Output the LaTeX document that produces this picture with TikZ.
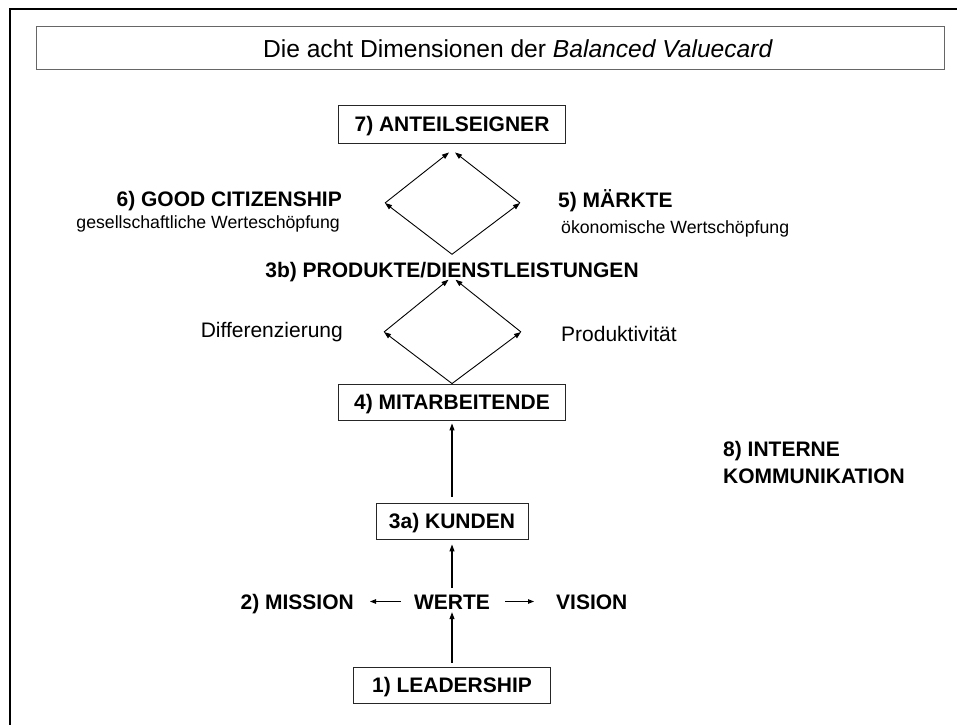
\documentclass[tikz,border=0pt]{standalone}
\usepackage{fontspec}
\setmainfont{Liberation Sans}
\usetikzlibrary{arrows.meta, positioning}

\tikzset{
  dim/.style={font=\bfseries\fontsize{21}{26}\selectfont, text height=15pt, text depth=0pt, inner sep=0pt},
  dimbox/.style={dim, draw=black!85, line width=0.9pt},
  sublbl/.style={font=\fontsize{17.7}{22}\selectfont, inner sep=0pt},
  sidelbl/.style={font=\fontsize{21}{26}\selectfont, inner sep=0pt},
  uparr/.style={line width=1.1pt, -{Triangle[length=7pt,width=5pt]}},
  flowarr/.style={line width=0.9pt, -{Triangle[length=7pt,width=5pt]}},
  sidearr/.style={line width=0.9pt, -{Triangle[length=6pt,width=4.5pt]}}
}

\begin{document}
\begin{tikzpicture}[x=1pt, y=-1pt]
                \useasboundingbox (0,0) rectangle (957,724);
                \draw[line width=2pt] (10,730) -- (10,9) -- (965,9);

                \node[draw=black!60, line width=1pt, minimum width=908pt, minimum height=43pt, inner sep=0pt] (titlebox) at (490,47.5) {};
                \node[font=\fontsize{24.6}{30}\selectfont, inner sep=0pt, anchor=base] (title) at (518,57) {Die acht Dimensionen der \textit{Balanced Valuecard}};

                \node[dimbox, minimum width=227pt, minimum height=38pt] (anteil) at (452,124) {7) ANTEILSEIGNER};
                \node[dim] (produkte) at (452,270) {3b) PRODUKTE/DIENSTLEISTUNGEN};
                \node[dimbox, minimum width=227pt, minimum height=36pt] (mitarb) at (452,402) {4) MITARBEITENDE};
                \node[dimbox, minimum width=152pt, minimum height=36pt] (kunden) at (452,521) {3a) KUNDEN};
                \node[dim] (werte) at (452,601.5) {WERTE};
                \node[dimbox, minimum width=197pt, minimum height=36pt] (leader) at (452,685) {1) LEADERSHIP};

                \node[dim, anchor=east] (mission) at (354,601.5) {2) MISSION};
                \node[dim, anchor=west] (vision) at (556,601.5) {VISION};
                \node[dim, anchor=east] (citizen) at (342,199) {6) GOOD CITIZENSHIP};
                \node[sublbl, anchor=base east] (gesell) at (340,228) {gesellschaftliche Werteschöpfung};
                \node[dim, anchor=west] (maerkte) at (558,200) {5) MÄRKTE};
                \node[sublbl, anchor=base west] (oekon) at (561,233) {ökonomische Wertschöpfung};
                \node[sidelbl, anchor=base east] (diff) at (343,337) {Differenzierung};
                \node[sidelbl, anchor=base west] (produkt) at (561,341) {Produktivität};
                \node[dim, anchor=west] (intern) at (723,449) {8) INTERNE};
                \node[dim, below=12pt of intern.south west, anchor=north west] (komm) {KOMMUNIKATION};

                \coordinate (d1b) at ([yshift=8pt]produkte.north);
                \coordinate (d1l) at (385,203);
                \coordinate (d1r) at (520,203);
                \coordinate (d1tl) at ([xshift=-3pt,yshift=-9pt]anteil.south);
                \coordinate (d1tr) at ([xshift=3pt,yshift=-9pt]anteil.south);
                \draw[flowarr] (d1b) -- (d1l);
                \draw[flowarr] (d1l) -- (d1tl);
                \draw[flowarr] (d1b) -- (d1r);
                \draw[flowarr] (d1r) -- (d1tr);

                \coordinate (d2b) at (mitarb.north);
                \coordinate (d2l) at (384,332);
                \coordinate (d2r) at (521,332);
                \coordinate (d2tl) at ([xshift=-3.5pt,yshift=-2pt]produkte.south);
                \coordinate (d2tr) at ([xshift=3.5pt,yshift=-2pt]produkte.south);
                \draw[flowarr] (d2b) -- (d2l);
                \draw[flowarr] (d2l) -- (d2tl);
                \draw[flowarr] (d2b) -- (d2r);
                \draw[flowarr] (d2r) -- (d2tr);

                \draw[uparr] ([yshift=6pt]kunden.north) -- ([yshift=-3pt]mitarb.south);
                \draw[uparr] ([yshift=6pt]werte.north) -- ([yshift=-5pt]kunden.south);
                \draw[uparr] ([yshift=4pt]leader.north) -- ([yshift=-3pt]werte.south);
                \draw[sidearr] ([xshift=-13pt]werte.west) -- ([xshift=16pt]mission.east);
                \draw[sidearr] ([xshift=15pt]werte.east) -- ([xshift=-22pt]vision.west);
            \end{tikzpicture}
\end{document}
